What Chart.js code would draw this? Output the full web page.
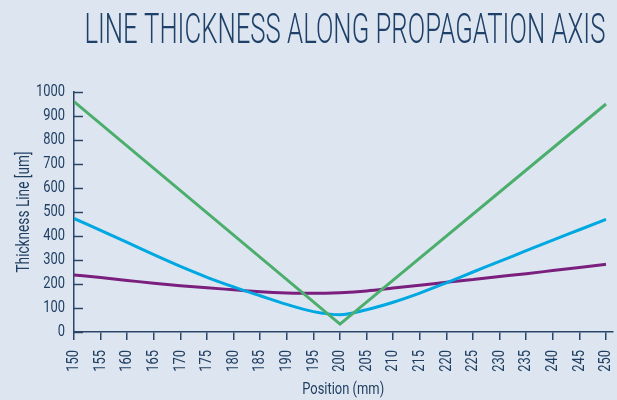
<!DOCTYPE html>
<html>
<head>
<meta charset="utf-8">
<script src="https://cdn.jsdelivr.net/npm/chart.js@4"></script>
<style>
html,body{margin:0;padding:0;background:#dde6f0;}
#wrap{width:617px;height:400px;position:relative;}
</style>
</head>
<body>
<div id="wrap"><canvas id="c" width="617" height="400"></canvas></div>
<script>
const titleText = "LINE THICKNESS ALONG PROPAGATION AXIS";
const xTitle = "Position (mm)";
const yTitle = "Thickness Line [um]";
const positions = [150,155,160,165,170,175,180,185,190,195,200,205,210,215,220,225,230,235,240,245,250];
const blueValues = [473,423,373,322,273,228,188,151,115,85,72,93,124,162,205,250,294,339,383,426,469];
const purpleValues = [238,227,215,203,193,184,176,168,163,161,164,171,183,195,207,219,231,243,256,269,282];
const greenPositions = [150,200,250];
const greenValues = [960,33,950];
const yTicks = [0,100,200,300,400,500,600,700,800,900,1000];

const navy = '#2a4566';
const textCol = '#213f63';
const FONT = 'Roboto, "DejaVu Sans", sans-serif';

// condensed look: draw text horizontally compressed (no condensed font installed)
const TEXT_SX = 0.76;
const TITLE_WIDTH = 521;
const TITLE_SHIFT = -7;
const origFill = CanvasRenderingContext2D.prototype.fillText;
CanvasRenderingContext2D.prototype.fillText = function(t, x, y, mw){
  const s = String(t);
  let w;
  if (s === titleText) { w = TITLE_WIDTH; x += TITLE_SHIFT; }
  else w = this.measureText(s).width * TEXT_SX;
  if (mw !== undefined && mw !== null) w = Math.min(w, mw);
  return origFill.call(this, t, x, y, w);
};

function pts(xs, ys){ return xs.map((x,i)=>({x:x,y:ys[i]})); }

const innerYTicks = {
  id:'innerYTicks',
  afterDatasetsDraw(chart){
    const ys = chart.scales.y, ctx = chart.ctx;
    const x0 = chart.chartArea.left;
    ctx.save();
    ctx.strokeStyle = navy; ctx.lineWidth = 1.5;
    ys.ticks.forEach(t=>{
      const y = Math.round(ys.getPixelForValue(t.value))+0.5;
      ctx.beginPath(); ctx.moveTo(x0, y); ctx.lineTo(x0+9, y); ctx.stroke();
    });
    ctx.restore();
  }
};

new Chart(document.getElementById('c'), {
  type:'line',
  data:{
    datasets:[
      {label:'green', data:pts(greenPositions, greenValues), borderColor:'#4cae6c', borderWidth:3, pointRadius:0, tension:0},
      {label:'blue', data:pts(positions, blueValues), borderColor:'#00a8e1', borderWidth:3, pointRadius:0, cubicInterpolationMode:'monotone'},
      {label:'purple', data:pts(positions, purpleValues), borderColor:'#7a1f7d', borderWidth:3, pointRadius:0, cubicInterpolationMode:'monotone'}
    ]
  },
  options:{
    responsive:false,
    animation:false,
    layout:{padding:{left:0,right:4.6,top:0,bottom:0}},
    plugins:{
      legend:{display:false},
      tooltip:{enabled:false},
      title:{
        display:true, text:titleText, align:'end', color:'#1f4068',
        font:{family:FONT, size:42, weight:300, lineHeight:1},
        padding:{top:11,bottom:39}
      }
    },
    scales:{
      x:{
        type:'linear', min:150, max:251.2,
        border:{display:true, color:navy, width:1.5},
        grid:{display:true, drawOnChartArea:false, drawTicks:true, tickLength:8, color:navy, lineWidth:1.5},
        ticks:{stepSize:5, includeBounds:false, autoSkip:false, minRotation:90, maxRotation:90, padding:10,
               color:textCol, font:{family:FONT, size:17}},
        title:{display:true, text:xTitle, color:textCol, font:{family:FONT, size:17, lineHeight:1.2}, padding:{top:0,bottom:0}},
        afterFit(s){ s.height = 68; s.paddingLeft = 0; s.paddingRight = 0; }
      },
      y:{
        type:'linear', min:0, max:1000,
        border:{display:true, color:navy, width:1.5},
        grid:{display:true, drawOnChartArea:false, drawTicks:false},
        afterBuildTicks(s){ s.ticks = yTicks.map(v=>({value:v})); },
        ticks:{padding:9, color:textCol, font:{family:FONT, size:17}, callback:(v)=>String(v)},
        title:{display:true, text:yTitle, color:textCol, font:{family:FONT, size:18, lineHeight:1.2}, padding:{top:14,bottom:0}},
        afterFit(s){ s.width = 74; }
      }
    }
  },
  plugins:[innerYTicks]
});
</script>
</body>
</html>
